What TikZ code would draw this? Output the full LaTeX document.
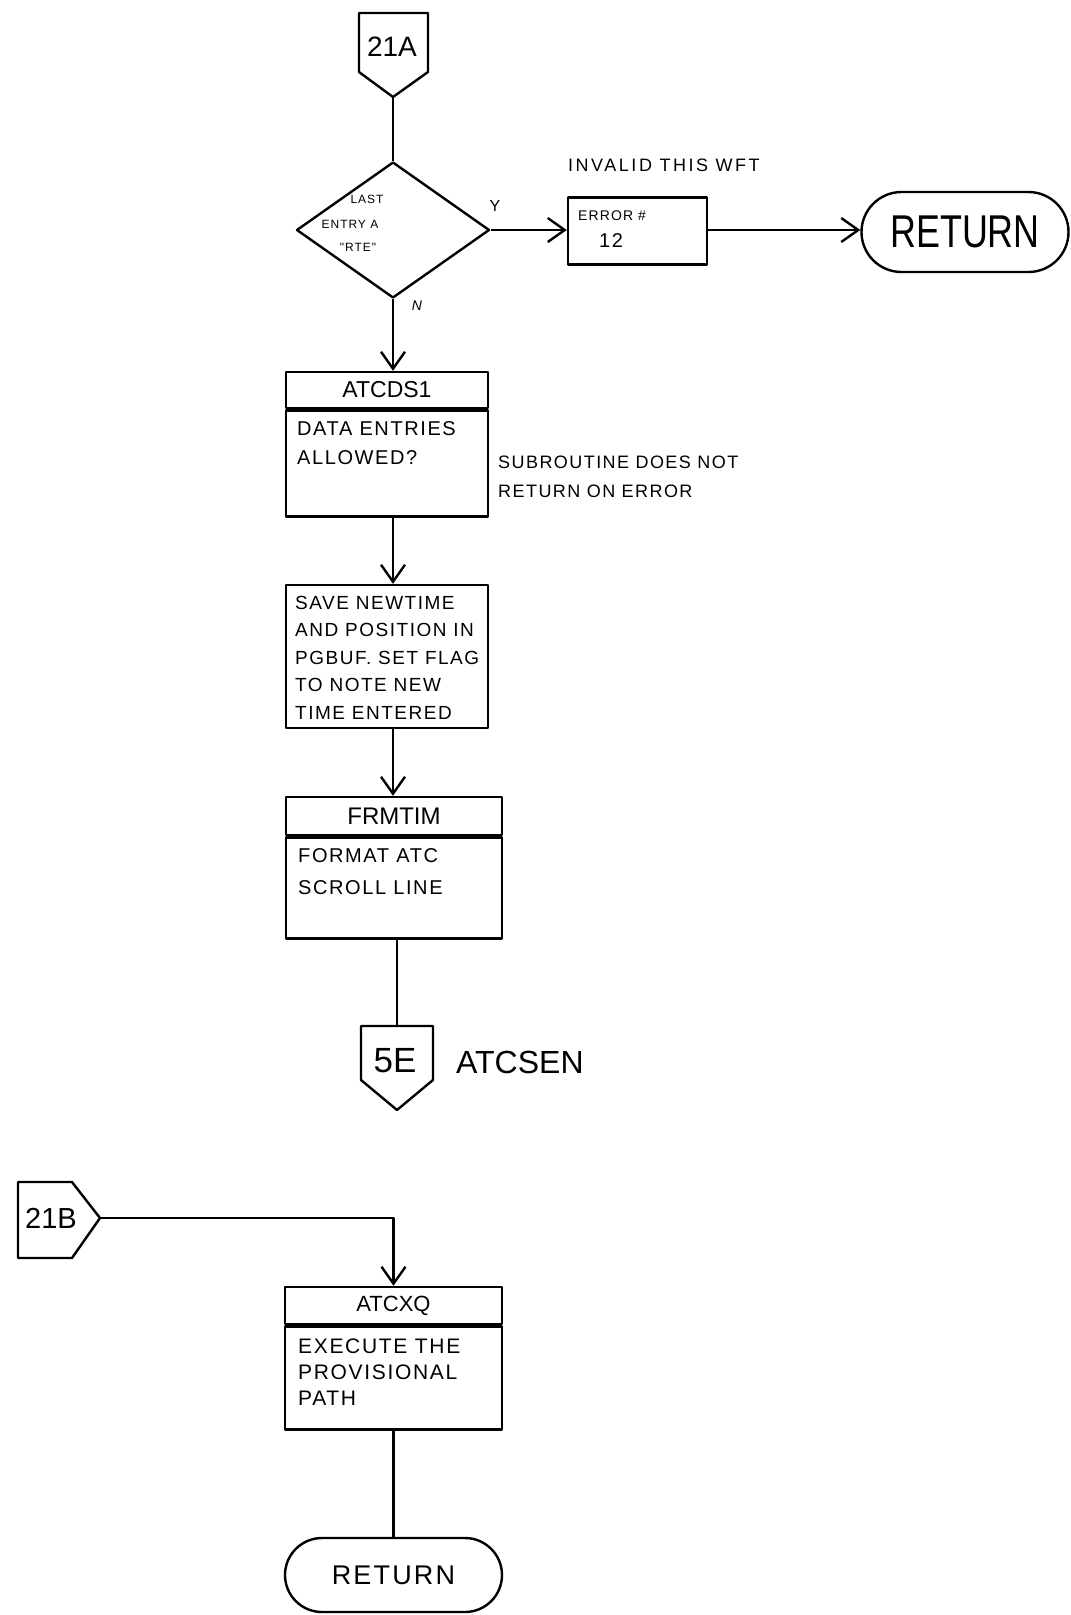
\documentclass[tikz,border=0pt]{standalone}
\usepackage{fontspec}
\setmainfont{Liberation Sans}
% lettered notes: a touch of extra tracking
\newfontfamily\hand[LetterSpace=8]{Liberation Sans}
\newfontfamily\wide[LetterSpace=14]{Liberation Sans}
% narrow capitals for the terminal labels
\newfontfamily\tall[FakeStretch=0.78]{Liberation Sans}
\usetikzlibrary{arrows.meta,shapes.geometric}

\begin{document}
\begin{tikzpicture}[x=1pt,y=-1pt,line width=2.4pt,line join=round,
  flow/.style={-{Straight Barb[length=17pt,width=24pt]}},
  box/.style={draw,rectangle,inner sep=0pt},
  term/.style={draw,rectangle,inner sep=0pt},
  txt/.style={inner sep=0pt},
  small/.style={inner sep=0pt,font=\hand\fontsize{12}{12}\selectfont},
  note/.style={inner sep=0pt,align=left,anchor=north west},
]
\useasboundingbox (0,0) rectangle (1071,1615);

% ---------------- entry 21A ----------------
\draw (359,13) -- (428,13) -- (428,72) -- (393,97) -- (359,72) -- cycle;
\coordinate (c21a) at (393,97);
\node[txt,font=\fontsize{28}{28}\selectfont] (l21a) at (392,47) {21A};

% decision
\node[draw,diamond,minimum width=193pt,minimum height=136pt,inner sep=0pt] (dec) at (393,230) {};
\node[small] (q1) at (367,199) {LAST};
\node[small] (q2) at (350,224) {ENTRY A};
\node[small] (q3) at (358,247) {"RTE"};
\node[txt,font=\hand\fontsize{16}{16}\selectfont] (ylab) at (495,206) {Y};
\node[txt,font=\hand\itshape\fontsize{14}{14}\selectfont] (nlab) at (417,306) {N};

% error branch
\node[box,minimum width=139pt,minimum height=67pt] (err) at (637.5,231) {};
\node[txt,anchor=west,font=\hand\fontsize{14}{14}\selectfont] (errtxt) at (577,216) {ERROR \#};
\node[txt,font=\hand\fontsize{20}{20}\selectfont] (errno) at (611,241) {12};
\node[txt,anchor=west,font=\wide\fontsize{18}{18}\selectfont] (inval) at (567,165) {INVALID THIS WFT};
\node[term,rounded corners=40pt,minimum width=207pt,minimum height=80pt] (ret1) at (965,232)
  {\tall\fontsize{46}{46}\selectfont RETURN};

% ATCDS1
\node[box,minimum width=202pt,minimum height=36pt] (h1) at (387,390) {\fontsize{23}{23}\selectfont ATCDS1};
\node[box,minimum width=202pt,minimum height=106pt,anchor=north] (b1) at (h1.south) {};
\node[note,font=\hand\fontsize{20}{29}\selectfont] (t1) at (296,420) {DATA ENTRIES\\ALLOWED?};
\node[note,font=\hand\fontsize{18}{29}\selectfont] (cmt) at (497,455) {SUBROUTINE DOES NOT\\RETURN ON ERROR};

% save block
\node[box,minimum width=202pt,minimum height=143pt] (sv) at (387,656.5) {};
\node[note,font=\hand\fontsize{19}{27.5}\selectfont] (svt) at (294,595)
  {SAVE NEWTIME\\AND POSITION IN\\PGBUF. SET FLAG\\TO NOTE NEW\\TIME ENTERED};

% FRMTIM
\node[box,minimum width=216pt,minimum height=38pt] (h2) at (394,816) {\fontsize{24}{24}\selectfont FRMTIM};
\node[box,minimum width=216pt,minimum height=101pt,anchor=north] (b2) at (h2.south) {};
\node[note,font=\hand\fontsize{20}{32}\selectfont] (t2) at (297,847) {FORMAT ATC\\SCROLL LINE};

% exit 5E
\draw (361,1026) -- (433,1026) -- (433,1080) -- (397,1110) -- (361,1080) -- cycle;
\coordinate (c5e) at (397,1026);
\node[txt,font=\fontsize{35}{35}\selectfont] (l5e) at (395,1061) {5E};
\node[txt,anchor=west,font=\fontsize{32}{32}\selectfont] (atcsen) at (455,1062) {ATCSEN};

% ---------------- entry 21B ----------------
\draw (18,1182) -- (72,1182) -- (100,1218) -- (72,1258) -- (18,1258) -- cycle;
\coordinate (c21b) at (100,1218);
\node[txt,font=\fontsize{29}{29}\selectfont] (l21b) at (51,1218) {21B};

% ATCXQ
\node[box,minimum width=217pt,minimum height=37pt] (h3) at (393.5,1305.5) {\fontsize{22}{22}\selectfont ATCXQ};
\node[box,minimum width=217pt,minimum height=103pt,anchor=north] (b3) at (h3.south) {};
\node[note,font=\hand\fontsize{21}{26}\selectfont] (t3) at (297,1338) {EXECUTE THE\\PROVISIONAL\\PATH};

\node[term,rounded corners=37pt,minimum width=217pt,minimum height=74pt] (ret2) at (393.5,1575)
  {\hand\fontsize{27}{27}\selectfont RETURN};

% ---------------- connectors ----------------
\draw (c21a) -- (dec.north);
\draw[flow] (dec.east) -- (dec.east -| err.west);
\draw[flow] (dec.east -| err.east) -- (dec.east -| ret1.west);
\draw[flow] (dec.south) -- (dec.south |- h1.north);
\draw[flow] (dec.south |- b1.south) -- (dec.south |- sv.north);
\draw[flow] (dec.south |- sv.south) -- (dec.south |- h2.north);
\draw (c5e |- b2.south) -- (c5e);
\draw[flow] (c21b) -- (c21b -| h3.north) -- (h3.north);
\draw (b3.south) -- (ret2.north);
\end{tikzpicture}
\end{document}
